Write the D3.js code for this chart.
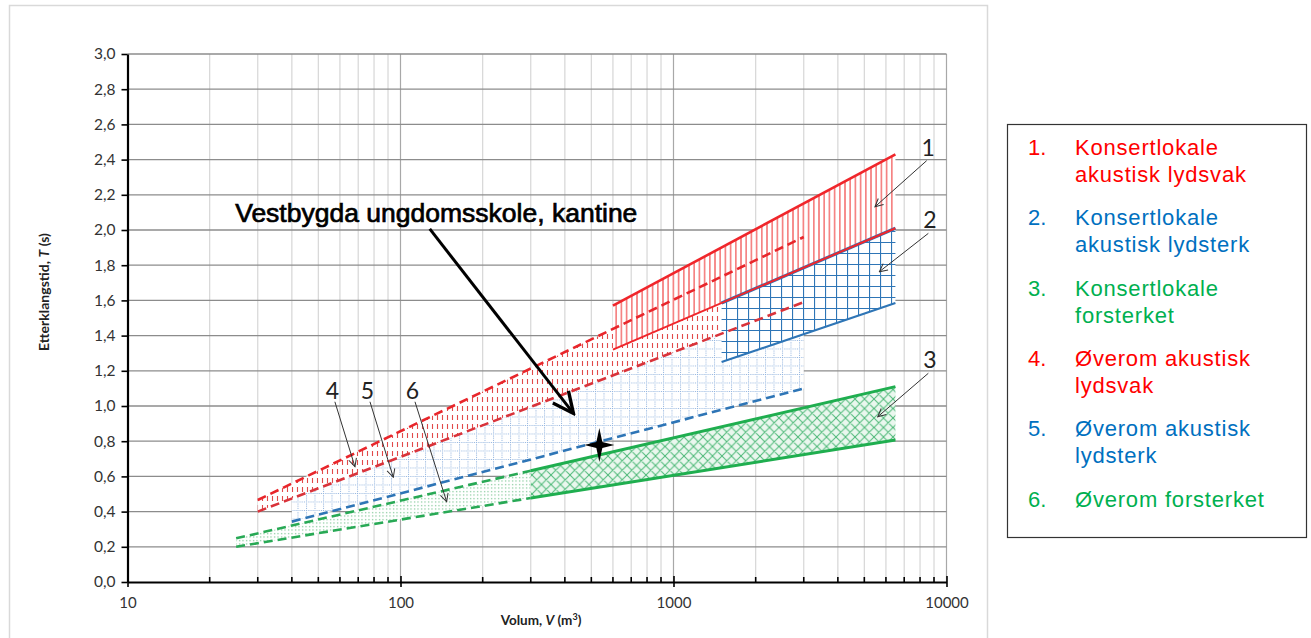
<!DOCTYPE html>
<html>
<head>
<meta charset="utf-8">
<script src="https://cdn.jsdelivr.net/npm/d3@7"></script>
<style>
  body { margin: 0; background: #fff; }
  svg { display: block; }
</style>
</head>
<body>
<svg id="chart" width="1311" height="638"></svg>
<script>
// values: volume V (m3), reverberation time T (s)
// bands: [V, T lower, T upper]
const band1 = [[600, 1.32, 1.57], [6500, 2.01, 2.43]];
const band2 = [[1500, 1.25, 1.585], [6500, 1.585, 2.01]];
const band3 = [[300, 0.477, 0.632], [6500, 0.807, 1.11]];
const band4 = [[30, 0.40, 0.466], [1500, 1.41, 1.735]];
const band5 = [[40, 0.343, 0.474], [3000, 1.10, 1.59]];
const band6 = [[25, 0.20, 0.248], [300, 0.477, 0.632]];

// boundary lines: [V, T]
const redSolidTop = [[600, 1.57], [6500, 2.43]];
const redSolidLow = [[600, 1.32], [6500, 2.01]];
const blueSolidTop = [[1500, 1.585], [6500, 2.01]];
const blueSolidLow = [[1500, 1.25], [6500, 1.585]];
const greenSolidTop = [[300, 0.632], [6500, 1.11]];
const greenSolidLow = [[300, 0.477], [6500, 0.807]];
const greenDashTop = [[25, 0.248], [300, 0.632]];
const greenDashLow = [[25, 0.20], [300, 0.477]];
const redDashTop = [[30, 0.466], [3000, 1.96]];
const redDashLow = [[30, 0.40], [3000, 1.59]];
const blueDash = [[40, 0.343], [3000, 1.10]];

const school = [535, 0.778];
const schoolName = "Vestbygda ungdomsskole, kantine";
const schoolArrow = [[128, 2.006], [430, 0.958]];
const schoolLabelAt = [24.8, 2.047];

// numbered callouts: label, from [V,T], to [V,T]
const calloutLabels = ["1", "2", "3", "4", "5", "6"];
const calloutFrom = [[8460, 2.394], [8580, 1.981], [8580, 1.186], [57.5, 1.024], [77.3, 1.024], [113, 1.024]];
const calloutTo = [[5470, 2.132], [5675, 1.763], [5600, 0.939], [68.1, 0.655], [94.1, 0.595], [147.6, 0.456]];

const yTicks = [0, 0.2, 0.4, 0.6, 0.8, 1.0, 1.2, 1.4, 1.6, 1.8, 2.0, 2.2, 2.4, 2.6, 2.8, 3.0];
const xDecades = [10, 100, 1000, 10000];

const legendNums = ["1.", "2.", "3.", "4.", "5.", "6."];
const legendText = [
  ["Konsertlokale", "akustisk lydsvak"],
  ["Konsertlokale", "akustisk lydsterk"],
  ["Konsertlokale", "forsterket"],
  ["Øverom akustisk", "lydsvak"],
  ["Øverom akustisk", "lydsterk"],
  ["Øverom forsterket"]
];

const RED = "#ff0000", BLUE = "#0070c0", GREEN = "#00b050";
const legendColors = [RED, BLUE, GREEN, RED, BLUE, GREEN];

const svg = d3.select("#chart");
const margin = { left: 127.5, right: 946.5, top: 54, bottom: 582 };

const x = d3.scaleLog().domain([10, 10000]).range([margin.left, margin.right]);
const y = d3.scaleLinear().domain([0, 3]).range([margin.bottom, margin.top]);

// outer chart frame
svg.append("rect")
  .attr("x", 9.5).attr("y", 5.5).attr("width", 978).attr("height", 660)
  .attr("fill", "none").attr("stroke", "#d9d9d9").attr("stroke-width", 1.5);

// patterns
const defs = svg.append("defs");

function pattern(id, w, h, bg) {
  const p = defs.append("pattern").attr("id", id)
    .attr("patternUnits", "userSpaceOnUse").attr("width", w).attr("height", h);
  if (bg) p.append("rect").attr("width", w).attr("height", h).attr("fill", bg);
  return p;
}

pattern("p1", 5.2, 10, "#fff").append("line")
  .attr("x1", 2.6).attr("x2", 2.6).attr("y1", 0).attr("y2", 10)
  .attr("stroke", "#f03c3c").attr("stroke-width", 1.1);

const p2 = pattern("p2", 11, 11, "#fff");
p2.append("path").attr("d", "M0.5,0V11M0,0.5H11")
  .attr("stroke", "#2e75b6").attr("stroke-width", 1.2).attr("fill", "none");

const p3 = pattern("p3", 9.5, 9.5, "#eaf7ee");
p3.append("path").attr("d", "M0,0L9.5,9.5M9.5,0L0,9.5M-1,8.5L1,10.5M8.5,-1L10.5,1M-1,1L1,-1M8.5,10.5L10.5,8.5")
  .attr("stroke", "#4cb877").attr("stroke-width", 1).attr("fill", "none");

pattern("p4", 5, 9, "#fff").append("line")
  .attr("x1", 2.5).attr("x2", 2.5).attr("y1", 1).attr("y2", 6)
  .attr("stroke", "#e24a4a").attr("stroke-width", 1.1);

const p5 = pattern("p5", 8.5, 8.5, "#fff");
p5.append("path").attr("d", "M0.5,0V8.5M0,0.5H8.5")
  .attr("stroke", "#8fb2de").attr("stroke-width", 1).attr("stroke-dasharray", "1,1.2").attr("fill", "none");

pattern("p6", 3.5, 3.5, "#fff").append("rect")
  .attr("x", 1).attr("y", 1).attr("width", 1.1).attr("height", 1.1).attr("fill", "#5bb87a");

// grid
const xAll = x.ticks();
svg.append("g").selectAll("line").data(xAll.filter(d => d > 10)).join("line")
  .attr("x1", d => x(d)).attr("x2", d => x(d))
  .attr("y1", y(0)).attr("y2", y(3))
  .attr("stroke", d => xDecades.includes(d) ? "#a8a8a8" : "#d6d6d6")
  .attr("stroke-width", 1.2);

svg.append("g").selectAll("line").data(yTicks.filter(d => d > 0)).join("line")
  .attr("x1", x(10)).attr("x2", x(10000))
  .attr("y1", d => y(d)).attr("y2", d => y(d))
  .attr("stroke", "#8c8c8c").attr("stroke-width", 1.3);

// bands
const area = d3.area().x(d => x(d[0])).y0(d => y(d[1])).y1(d => y(d[2]));
const bands = [[band6, "p6"], [band5, "p5"], [band4, "p4"], [band3, "p3"], [band1, "p1"], [band2, "p2"]];
svg.append("g").selectAll("path").data(bands).join("path")
  .attr("d", d => area(d[0]))
  .attr("fill", d => `url(#${d[1]})`);

// lines
const line = d3.line().x(d => x(d[0])).y(d => y(d[1]));
const lines = [
  [greenDashTop, "#28a955", 2.6, "9,5"],
  [greenDashLow, "#28a955", 2.6, "9,5"],
  [blueDash, "#2e75b6", 2.6, "9,5"],
  [redDashLow, "#d9333a", 2.6, "9,5"],
  [redDashTop, "#e8262b", 2.6, "9,5"],
  [greenSolidTop, "#1fae4f", 3, null],
  [greenSolidLow, "#1fae4f", 3, null],
  [blueSolidLow, "#2e75b6", 2.2, null],
  [blueSolidTop, "#2e75b6", 3.2, null],
  [redSolidLow, "#f0262b", 2, null],
  [redSolidTop, "#f0262b", 2.6, null]
];
svg.append("g").selectAll("path").data(lines).join("path")
  .attr("d", d => line(d[0]))
  .attr("fill", "none")
  .attr("stroke", d => d[1])
  .attr("stroke-width", d => d[2])
  .attr("stroke-dasharray", d => d[3]);

// axes
const fmt = d => d3.format(".1f")(d).replace(".", ",");
const yAxis = svg.append("g").attr("transform", `translate(${x(10)},0)`)
  .call(d3.axisLeft(y).tickValues(yTicks).tickFormat(fmt).tickSize(6).tickPadding(6).tickSizeOuter(0));
yAxis.select(".domain").attr("stroke", "#000").attr("stroke-width", 2.2);
yAxis.selectAll(".tick line").attr("stroke", "#000").attr("stroke-width", 1.6);
yAxis.selectAll("text").attr("font-family", "Lato").attr("font-size", 15.5).attr("fill", "#333");

const xAxis = svg.append("g").attr("transform", `translate(0,${y(0)})`)
  .call(d3.axisBottom(x).tickValues(xDecades).tickFormat(d3.format("d")).tickSize(5).tickPadding(10).tickSizeOuter(0));
xAxis.select(".domain").attr("stroke", "#000").attr("stroke-width", 2.2);
xAxis.selectAll(".tick line").attr("stroke", "#000").attr("stroke-width", 1.6).attr("y1", -6);
xAxis.selectAll("text").attr("font-family", "Lato").attr("font-size", 15).attr("fill", "#333");
xAxis.append("g").selectAll("line").data(xAll.filter(d => !xDecades.includes(d))).join("line")
  .attr("x1", d => x(d)).attr("x2", d => x(d)).attr("y1", -5).attr("y2", 0)
  .attr("stroke", "#000").attr("stroke-width", 1.6);

// axis titles
const yTitle = svg.append("text")
  .attr("transform", `translate(49,${(margin.top + margin.bottom) / 2 - 26}) rotate(-90)`)
  .attr("text-anchor", "middle").attr("font-family", "Lato").attr("font-weight", "bold")
  .attr("font-size", 14).attr("fill", "#222");
yTitle.append("tspan").text("Etterklangstid, ");
yTitle.append("tspan").attr("font-style", "italic").text("T");
yTitle.append("tspan").text(" (s)");

const xTitle = svg.append("text")
  .attr("x", 541).attr("y", 625)
  .attr("text-anchor", "middle").attr("font-family", "Lato").attr("font-weight", "bold")
  .attr("font-size", 13.5).attr("fill", "#222");
xTitle.append("tspan").text("Volum, ");
xTitle.append("tspan").attr("font-style", "italic").text("V");
xTitle.append("tspan").text(" (m");
xTitle.append("tspan").attr("font-size", 9).attr("dy", -5).text("3");
xTitle.append("tspan").attr("dy", 5).text(")");

// arrow markers
defs.append("marker").attr("id", "thin").attr("viewBox", "0 0 10 10")
  .attr("refX", 9).attr("refY", 5).attr("markerWidth", 10).attr("markerHeight", 10)
  .attr("markerUnits", "userSpaceOnUse").attr("orient", "auto")
  .append("path").attr("d", "M1,1L9,5L1,9").attr("fill", "none").attr("stroke", "#333").attr("stroke-width", 1);

defs.append("marker").attr("id", "thick").attr("viewBox", "0 0 10 10")
  .attr("refX", 9).attr("refY", 5).attr("markerWidth", 26).attr("markerHeight", 26)
  .attr("markerUnits", "userSpaceOnUse").attr("orient", "auto")
  .append("path").attr("d", "M1,1.2L9,5L1,8.8").attr("fill", "none").attr("stroke", "#000").attr("stroke-width", 1.3);

// callouts
const callouts = svg.append("g");
callouts.selectAll("line").data(calloutLabels).join("line")
  .attr("x1", (d, i) => x(calloutFrom[i][0])).attr("y1", (d, i) => y(calloutFrom[i][1]))
  .attr("x2", (d, i) => x(calloutTo[i][0])).attr("y2", (d, i) => y(calloutTo[i][1]))
  .attr("stroke", "#333").attr("stroke-width", 1).attr("marker-end", "url(#thin)");
callouts.selectAll("text").data(calloutLabels).join("text")
  .attr("x", (d, i) => x(calloutFrom[i][0]) + (i < 3 ? 1.5 : -2.5))
  .attr("y", (d, i) => y(calloutFrom[i][1]) - (i < 3 ? 5 : 2.5))
  .attr("text-anchor", "middle").attr("font-family", "Lato").attr("font-size", 23).attr("fill", "#222")
  .text(d => d);

// school marker and label
svg.append("line")
  .attr("x1", x(schoolArrow[0][0])).attr("y1", y(schoolArrow[0][1]))
  .attr("x2", x(schoolArrow[1][0])).attr("y2", y(schoolArrow[1][1]))
  .attr("stroke", "#000").attr("stroke-width", 3).attr("marker-end", "url(#thick)");

svg.append("text")
  .attr("x", x(schoolLabelAt[0])).attr("y", y(schoolLabelAt[1]))
  .attr("font-family", "Liberation Sans, Arial").attr("font-size", 26.5)
  .attr("fill", "#000").attr("stroke", "#000").attr("stroke-width", 0.7)
  .text(schoolName);

svg.append("path")
  .attr("transform", `translate(${x(school[0])},${y(school[1])})`)
  .attr("d", "M0,-17L3,-3L15,0L3,3L0,17L-3,3L-15,0L-3,-3Z")
  .attr("fill", "#000");

// legend
const lg = svg.append("g");
lg.append("rect").attr("x", 1007.5).attr("y", 124.5).attr("width", 299).attr("height", 413)
  .attr("fill", "#fff").attr("stroke", "#333").attr("stroke-width", 1.2);

legendText.forEach((rows, i) => {
  const top = 155 + i * 70.3;
  lg.append("text").attr("x", 1028).attr("y", top)
    .attr("font-family", "Liberation Sans, Arial").attr("font-size", 22)
    .attr("fill", legendColors[i]).text(legendNums[i]);
  rows.forEach((r, j) => {
    lg.append("text").attr("x", 1075).attr("y", top + j * 27)
      .attr("font-family", "Liberation Sans, Arial").attr("font-size", 22)
      .attr("letter-spacing", 0.8)
      .attr("fill", legendColors[i]).text(r);
  });
});
</script>
</body>
</html>
